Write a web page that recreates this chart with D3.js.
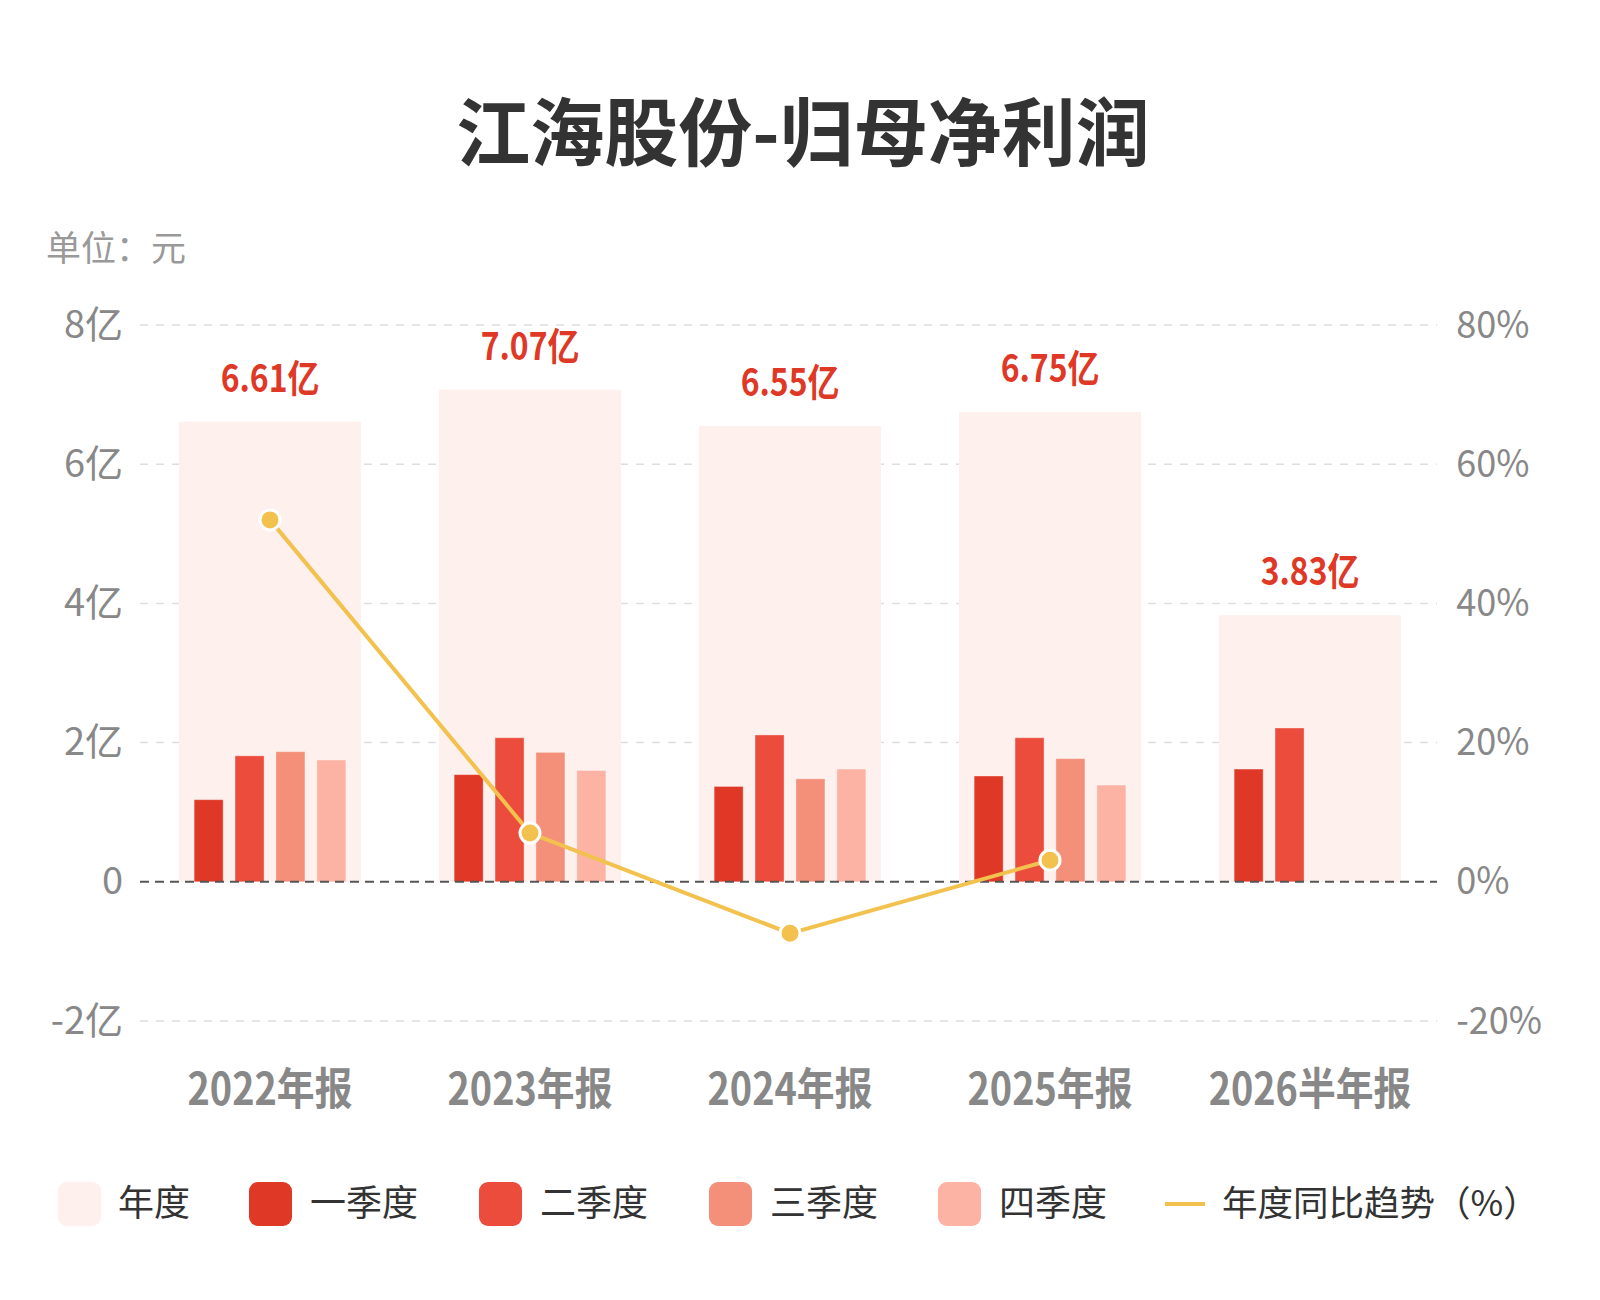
<!DOCTYPE html>
<html>
<head>
<meta charset="utf-8">
<script src="https://cdn.jsdelivr.net/npm/d3@7/dist/d3.min.js"></script>
<style>
  body { margin: 0; background: #fff; }
  .num { font-family: "Noto Sans CJK SC", "Noto Sans", sans-serif; }
  .cjk { font-family: "Noto Sans CJK SC", "Noto Sans", sans-serif; }
</style>
</head>
<body>
<script>
// data
var categories = ["2022年报", "2023年报", "2024年报", "2025年报", "2026半年报"];
var annual = [6.61, 7.07, 6.55, 6.75, 3.83];          // 亿元
var q1 = [1.18, 1.54, 1.37, 1.52, 1.62];
var q2 = [1.81, 2.07, 2.11, 2.07, 2.21];
var q3 = [1.87, 1.86, 1.48, 1.77, null];
var q4 = [1.75, 1.60, 1.62, 1.39, null];
var yoy = [52.0, 7.0, -7.4, 3.1];                      // %, 年报 only
var leftTicks = [-2, 0, 2, 4, 6, 8];
var rightTicks = [-20, 0, 20, 40, 60, 80];
var quarterNames = ["一季度", "二季度", "三季度", "四季度"];

var width = 1600, height = 1300;
var colors = {annual: "#FEF0EC", q: ["#E03826", "#EC4C3C", "#F4907A", "#FCB3A4"], line: "#F2C14E"};

var svg = d3.select("body").append("svg")
    .attr("width", width)
    .attr("height", height);

svg.append("rect").attr("width", width).attr("height", height).attr("fill", "#fff");

// title + unit
svg.append("text")
    .attr("class", "cjk")
    .attr("x", 803).attr("y", 160)
    .attr("text-anchor", "middle")
    .attr("font-size", 74).attr("font-weight", "bold")
    .attr("fill", "#333")
    .text("江海股份-归母净利润");

svg.append("text")
    .attr("class", "cjk")
    .attr("x", 46).attr("y", 261)
    .attr("font-size", 35)
    .attr("fill", "#999")
    .text("单位：元");

// scales
var x = d3.scaleBand().domain(categories).range([140, 1440]).paddingInner(0.3).paddingOuter(0.15);
var xq = d3.scaleBand().domain(quarterNames).range([0, x.bandwidth()]).paddingInner(0.29).paddingOuter(0.37);
var y = d3.scaleLinear().domain([-2, 8]).range([1021, 325]);
var y2 = d3.scaleLinear().domain([-20, 80]).range([1021, 325]);

// grid
svg.append("g").selectAll("line")
    .data(leftTicks.filter(function(d) { return d !== 0; }))
    .join("line")
    .attr("x1", 140).attr("x2", 1437)
    .attr("y1", function(d) { return y(d); }).attr("y2", function(d) { return y(d); })
    .attr("stroke", "#dddddd")
    .attr("stroke-width", 1.5)
    .attr("stroke-dasharray", "8,8");

// annual bars
svg.append("g").selectAll("rect")
    .data(categories)
    .join("rect")
    .attr("x", function(d) { return x(d); })
    .attr("width", x.bandwidth())
    .attr("y", function(d, i) { return y(annual[i]); })
    .attr("height", function(d, i) { return y(0) - y(annual[i]); })
    .attr("fill", colors.annual);

// quarter bars
var quarters = [q1, q2, q3, q4];
quarters.forEach(function(arr, qi) {
  svg.append("g").selectAll("rect")
    .data(categories.filter(function(d, i) { return arr[i] != null; }))
    .join("rect")
    .attr("x", function(d) { return x(d) + xq(quarterNames[qi]); })
    .attr("width", xq.bandwidth())
    .attr("y", function(d) { return y(arr[categories.indexOf(d)]); })
    .attr("height", function(d) { return y(0) - y(arr[categories.indexOf(d)]); })
    .attr("fill", colors.q[qi])
    .attr("stroke", "rgba(255,255,255,0.35)")
    .attr("stroke-width", 1);
});

// zero line
svg.append("line")
    .attr("x1", 140).attr("x2", 1437)
    .attr("y1", y(0)).attr("y2", y(0))
    .attr("stroke", "#555")
    .attr("stroke-width", 2)
    .attr("stroke-dasharray", "9,6");

// annual value labels (narrowed to look like the condensed digits)
svg.append("g").selectAll("text")
    .data(categories)
    .join("text")
    .attr("class", "num")
    .attr("transform", function(d, i) {
      return "translate(" + (x(d) + x.bandwidth() / 2) + "," + (y(annual[i]) - 30) + ") scale(0.84,1)";
    })
    .attr("text-anchor", "middle")
    .attr("font-size", 38).attr("font-weight", "bold")
    .attr("fill", "#E03826")
    .text(function(d, i) { return annual[i].toFixed(2) + "亿"; });

// axes
var leftAxis = svg.append("g")
    .attr("class", "num")
    .attr("transform", "translate(140,0)")
    .call(d3.axisLeft(y).tickValues(leftTicks).tickSize(0).tickPadding(17)
      .tickFormat(function(d) { return d === 0 ? "0" : d + "亿"; }));
leftAxis.select(".domain").remove();
leftAxis.selectAll("text").attr("font-size", 38).attr("fill", "#888").attr("font-family", null);

var rightAxis = svg.append("g")
    .attr("class", "num")
    .attr("transform", "translate(1440,0)")
    .call(d3.axisRight(y2).tickValues(rightTicks).tickSize(0).tickPadding(17)
      .tickFormat(function(d) { return d + "%"; }));
rightAxis.select(".domain").remove();
rightAxis.selectAll("text").attr("font-size", 38).attr("fill", "#888").attr("font-family", null)
    .attr("transform", "scale(0.95,1)");

var bottomAxis = svg.append("g")
    .attr("class", "num")
    .attr("transform", "translate(0,1105)")
    .call(d3.axisBottom(x).tickSize(0).tickPadding(0));
bottomAxis.select(".domain").remove();
bottomAxis.selectAll("text")
    .attr("dy", 0)
    .attr("transform", "scale(0.86,1)")
    .attr("font-size", 44).attr("font-weight", "bold")
    .attr("fill", "#888").attr("font-family", null);

// yoy line
var line = d3.line()
    .x(function(d, i) { return x(categories[i]) + x.bandwidth() / 2; })
    .y(function(d) { return y2(d); });

svg.append("path")
    .attr("d", line(yoy))
    .attr("fill", "none")
    .attr("stroke", colors.line)
    .attr("stroke-width", 4);

svg.append("g").selectAll("circle")
    .data(yoy)
    .join("circle")
    .attr("cx", function(d, i) { return x(categories[i]) + x.bandwidth() / 2; })
    .attr("cy", function(d) { return y2(d); })
    .attr("r", 10)
    .attr("fill", colors.line)
    .attr("stroke", "#fff")
    .attr("stroke-width", 3);

// legend
var legendItems = [
  {name: "年度", color: colors.annual, sx: 58, tx: 118},
  {name: "一季度", color: colors.q[0], sx: 249, tx: 310},
  {name: "二季度", color: colors.q[1], sx: 479, tx: 540},
  {name: "三季度", color: colors.q[2], sx: 709, tx: 770},
  {name: "四季度", color: colors.q[3], sx: 938, tx: 999}
];
var lg = svg.append("g");
lg.selectAll("rect")
    .data(legendItems)
    .join("rect")
    .attr("x", function(d) { return d.sx; })
    .attr("y", 1182)
    .attr("width", 43).attr("height", 44)
    .attr("rx", 9)
    .attr("fill", function(d) { return d.color; });
lg.selectAll("text")
    .data(legendItems)
    .join("text")
    .attr("class", "cjk")
    .attr("x", function(d) { return d.tx; })
    .attr("y", 1216)
    .attr("font-size", 36)
    .attr("fill", "#333")
    .text(function(d) { return d.name; });

lg.append("line")
    .attr("x1", 1165).attr("x2", 1205)
    .attr("y1", 1204).attr("y2", 1204)
    .attr("stroke", colors.line)
    .attr("stroke-width", 4);
lg.append("text")
    .attr("class", "cjk")
    .attr("x", 1222).attr("y", 1216)
    .attr("font-size", 35.5)
    .attr("fill", "#333")
    .text("年度同比趋势（%）");
</script>
</body>
</html>
